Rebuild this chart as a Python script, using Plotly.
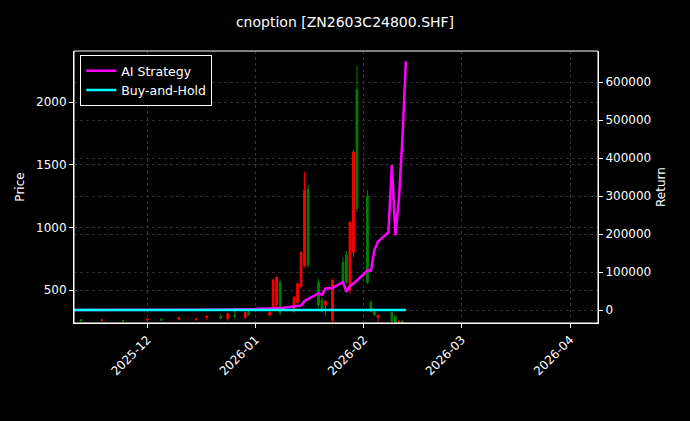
import plotly.graph_objects as go

# daily candles (price axis)
dates = ["2025-11-12", "2025-11-18", "2025-11-24", "2025-12-01", "2025-12-05", "2025-12-10",
         "2025-12-15", "2025-12-18", "2025-12-22", "2025-12-24", "2025-12-26", "2025-12-29",
         "2025-12-30", "2026-01-05", "2026-01-06", "2026-01-07", "2026-01-08", "2026-01-12",
         "2026-01-13", "2026-01-14", "2026-01-15", "2026-01-16", "2026-01-19", "2026-01-20",
         "2026-01-21", "2026-01-23", "2026-01-26", "2026-01-27", "2026-01-28", "2026-01-29",
         "2026-01-30", "2026-02-02", "2026-02-03", "2026-02-04", "2026-02-05", "2026-02-09",
         "2026-02-10", "2026-02-11", "2026-02-12", "2026-02-13"]
opens = [262, 258, 255, 262, 268, 270, 265, 280, 290, 270, 300, 280, 320, 300, 350, 380, 560,
         330, 400, 530, 690, 1300, 560, 420, 380, 260, 720, 780, 500, 800, 2100, 1250, 400, 330,
         280, 320, 290, 240, 250, 230]
highs = [268, 262, 260, 270, 275, 285, 272, 300, 310, 320, 360, 330, 340, 330, 590, 610, 580,
         450, 560, 810, 1440, 1340, 590, 440, 420, 590, 760, 810, 1050, 1620, 2290, 1300, 420, 350,
         300, 330, 300, 260, 260, 240]
lows = [250, 248, 246, 252, 255, 258, 255, 262, 270, 255, 270, 270, 300, 290, 330, 360, 300,
        320, 390, 510, 680, 680, 360, 320, 300, 240, 560, 550, 470, 760, 1120, 550, 320, 290,
        240, 250, 220, 200, 205, 200]
closes = [255, 262, 252, 268, 260, 280, 270, 290, 275, 310, 290, 320, 300, 320, 580, 600, 320,
          440, 550, 800, 1300, 700, 380, 330, 410, 580, 560, 560, 1040, 1600, 1150, 560, 330, 300,
          300, 250, 240, 250, 210, 210]

# strategy returns (return axis)
ret_dates = ["2025-11-10", "2025-12-01", "2025-12-20", "2026-01-01", "2026-01-09", "2026-01-14",
             "2026-01-15", "2026-01-19", "2026-01-20", "2026-01-21", "2026-01-23", "2026-01-26",
             "2026-01-27", "2026-01-28", "2026-01-29", "2026-02-01", "2026-02-02", "2026-02-03",
             "2026-02-04", "2026-02-05", "2026-02-08", "2026-02-09", "2026-02-10", "2026-02-11",
             "2026-02-12", "2026-02-13"]
ai_strategy = [0, 0, 1000, 3000, 6000, 12000, 24000, 44000, 40000, 57000, 58000, 74000, 48000,
               64000, 70000, 95000, 105000, 104000, 158000, 180000, 205000, 382000, 197000,
               290000, 450000, 655000]
buy_hold = [0] * len(ret_dates)

fig = go.Figure()
fig.add_trace(go.Candlestick(
    x=dates, open=opens, high=highs, low=lows, close=closes,
    increasing=dict(line=dict(color="#ff0000", width=1), fillcolor="#ff0000"),
    decreasing=dict(line=dict(color="#008000", width=1), fillcolor="#008000"),
    whiskerwidth=0, showlegend=False, hoverinfo="skip"
))
fig.add_trace(go.Scatter(x=ret_dates, y=ai_strategy, yaxis="y2", mode="lines",
                         name="AI Strategy", line=dict(color="#ff00ff", width=2.5)))
fig.add_trace(go.Scatter(x=ret_dates, y=buy_hold, yaxis="y2", mode="lines",
                         name="Buy-and-Hold", line=dict(color="#00ffff", width=2.5)))

grid = dict(showgrid=True, gridcolor="#333333", griddash="dot", gridwidth=0.5,
            zeroline=False, color="white", ticks="outside", tickcolor="white", ticklen=4,
            linecolor="white", showline=True, mirror=False)
fig.update_layout(
    width=690, height=421,
    paper_bgcolor="black", plot_bgcolor="black",
    font=dict(family="DejaVu Sans", size=12, color="white"),
    title=dict(text="cnoption [ZN2603C24800.SHF]", x=0.5, xanchor="center", y=0.96,
               yanchor="top", font=dict(size=14)),
    margin=dict(l=74, r=92, t=51, b=98),
    xaxis=dict(**grid, type="date", range=["2025-11-10", "2026-04-09"],
               rangeslider=dict(visible=False), tickangle=-45, tickformat="%Y-%m",
               dtick="M1", tick0="2025-12-01"),
    yaxis=dict(**grid, range=[237, 2407], tickvals=[500, 1000, 1500, 2000],
               title=dict(text="Price", standoff=8, font=dict(size=12))),
    yaxis2=dict(overlaying="y", side="right", range=[-34000, 682000],
                tickvals=[0, 100000, 200000, 300000, 400000, 500000, 600000],
                tickformat="d", ticklen=4,
                showgrid=True, gridcolor="#2c2c2c", griddash="dot", gridwidth=0.5,
                zeroline=False, color="white", ticks="outside", tickcolor="white",
                showline=True, linecolor="white",
                title=dict(text="Return", standoff=6, font=dict(size=12))),
    legend=dict(x=0.012, y=0.985, xanchor="left", yanchor="top", bgcolor="black",
                bordercolor="white", borderwidth=1, font=dict(size=12.5)),
    shapes=[dict(type="rect", xref="paper", yref="paper", x0=0, y0=0, x1=1, y1=1,
                 line=dict(color="white", width=1))],
)
fig.write_html("out.html", config={"displayModeBar": False},
               post_script="document.body.style.margin='0';document.body.style.background='black';")
